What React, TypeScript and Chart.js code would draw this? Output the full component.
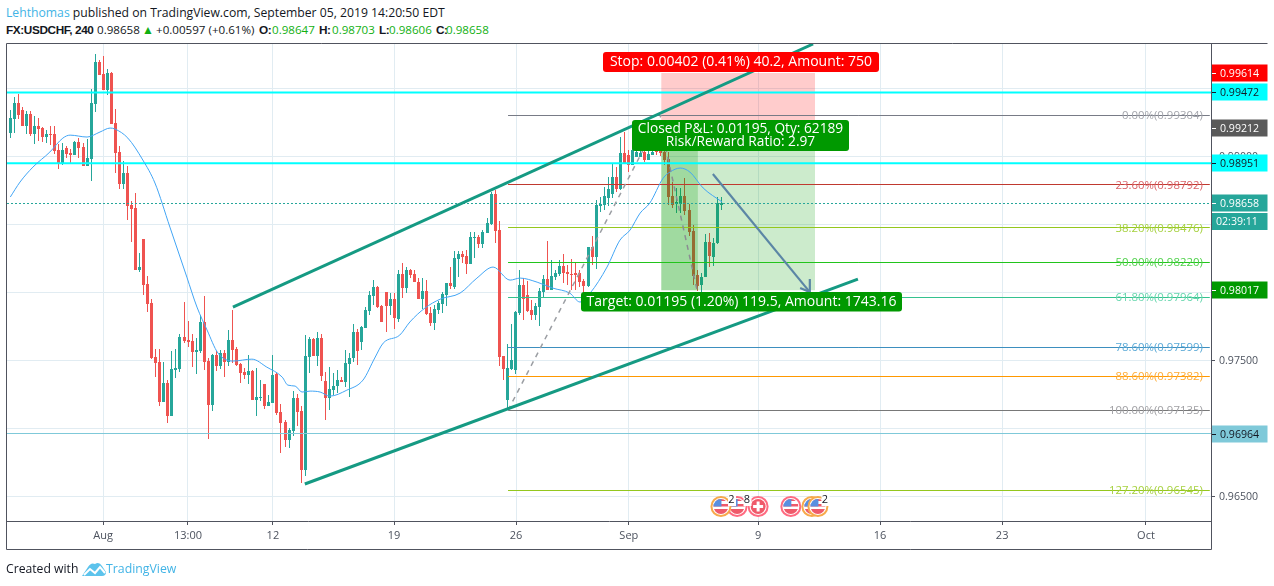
import React, { useEffect, useRef } from "react";
import { Chart, registerables } from "chart.js";

Chart.register(...registerables);

// ---- price data, in units of 0.00001 ----
const UNIT = 100000;
const opens = [
99173,99276,99394,99342,99225,99313,99166,99225,99210,99144,
99166,99166,99048,98946,99063,99026,99012,99107,99070,98931,
98982,99386,99695,99607,99489,99614,99247,99034,98799,98879,
98644,98622,98166,98393,98063,97923,97526,97489,97195,97335,
97092,97430,97438,97674,97651,97644,97563,97570,97784,97497,
97173,97541,97460,97556,97489,97651,97585,97475,97415,97393,
97423,97210,97225,97328,97166,97188,97401,97121,97048,96916,
96982,97225,97129,96695,97526,97659,97534,97666,97350,97225,
97283,97313,97357,97342,97475,97519,97710,97636,97740,97864,
97975,98040,97901,98004,97901,97952,97806,98136,98033,98166,
98136,98077,97952,98011,97850,97776,97872,97916,97982,98070,
98040,98246,98283,98269,98210,98401,98408,98357,98438,98504,
98724,98460,97534,97210,97438,97430,97850,98055,97982,97872,
97835,97894,98004,98099,98019,98114,98136,98195,98151,98136,
98144,98144,98085,98048,98335,98261,98637,98644,98696,98724,
98850,98762,99026,99012,98938,98996,98996,99034,98975,99012,
99048,99063,99034,98982,98710,98651,98651,98710,98607,98453,
98129,98055,98114,98371,98261,98364,98647];
const highs = [
99342,99438,99460,99365,99335,99335,99298,99283,99218,99195,
99225,99225,99093,99100,99078,99055,99115,99136,99100,99129,
99496,99754,99710,99739,99644,99621,99350,99078,98968,98931,
98674,98732,98291,98393,98121,97952,97585,97585,97489,97357,
97570,97585,97696,97931,97791,97696,97666,97835,97975,97519,
97548,97570,97578,97578,97725,97872,97600,97482,97445,97541,
97430,97445,97357,97328,97246,97541,97408,97181,97063,97004,
97276,97254,97166,97688,97674,97666,97710,97696,97415,97452,
97408,97430,97379,97578,97556,97769,97732,97754,97894,98011,
98092,98048,97909,98004,97996,97996,98166,98217,98188,98173,
98166,98107,98107,98092,97894,97909,97938,98004,98070,98188,
98306,98306,98306,98313,98445,98445,98423,98460,98548,98739,
98754,98526,97534,97622,97769,97864,98166,98107,98085,97945,
97923,98033,98129,98379,98239,98166,98239,98283,98202,98246,
98217,98166,98099,98335,98416,98681,98703,98776,98850,98953,
98923,99144,99181,99048,99210,99048,99048,99048,99048,99048,
99195,99240,99048,99034,98813,98769,98769,98842,98651,98497,
98166,98144,98430,98438,98401,98703,98703];
const lows = [
99136,99173,99276,99225,99166,99151,99093,99115,99107,99100,
99085,99019,98908,98938,98990,98953,99012,98990,98931,98931,
98821,99327,99600,99489,99452,99240,98879,98762,98762,98533,
98371,98166,98151,97982,97857,97511,97379,97166,97195,97041,
97092,97372,97415,97629,97600,97452,97401,97556,97430,96923,
97129,97423,97438,97379,97460,97482,97460,97335,97364,97328,
97210,97092,97203,97144,97166,97188,97099,96820,96864,96857,
96945,97019,96600,96651,97408,97534,97460,97350,97063,97136,
97246,97261,97342,97305,97232,97489,97467,97578,97740,97835,
97909,97886,97784,97710,97835,97732,97784,97960,97996,98107,
98077,97952,97879,97835,97754,97725,97843,97850,97901,98026,
98026,98114,98217,98136,98210,98254,98328,98328,98438,98496,
98364,97460,97357,97136,97430,97401,97835,97798,97857,97798,
97798,97754,97967,98019,98019,98092,98121,98070,98055,98019,
98019,98040,97996,98040,98202,98173,98592,98607,98637,98696,
98740,98754,98953,98887,98938,98996,98996,98960,98975,99012,
99012,99004,98938,98644,98622,98585,98585,98570,98416,98055,
98011,98004,98114,98188,98195,98357,98606];
const closes = [
99283,99394,99305,99225,99313,99166,99225,99203,99144,99166,
99158,99041,98946,99048,99019,99012,99107,99063,98931,98990,
99394,99695,99600,99489,99614,99240,99026,98799,98879,98637,
98615,98166,98188,98055,97916,97519,97482,97195,97335,97092,
97438,97445,97674,97644,97636,97563,97578,97784,97489,97173,
97541,97460,97556,97489,97651,97578,97467,97408,97393,97423,
97210,97232,97232,97166,97195,97393,97114,97041,96916,96989,
97225,97121,96695,97534,97659,97534,97666,97386,97225,97291,
97313,97357,97342,97482,97519,97710,97570,97747,97872,97982,
98040,97894,97784,97901,97952,97813,98136,98033,98166,98129,
98077,97952,98011,97843,97776,97879,97923,97989,98070,98048,
98254,98283,98261,98210,98408,98408,98357,98445,98511,98724,
98453,97526,97438,97445,97504,97857,98055,97952,97864,97835,
97901,98011,98099,98019,98121,98144,98195,98144,98136,98129,
98129,98077,98048,98335,98261,98644,98651,98710,98762,98850,
98762,99026,98953,98938,99048,99034,99026,98975,99019,99034,
99034,99026,98975,98703,98644,98666,98710,98600,98445,98121,
98048,98114,98371,98269,98364,98659,98658];

// moving average, read at these bar positions
const maBars = [0,2.4,5.6,9.8,13,14.8,19,22.2,24.7,25.9,29.1,32.8,35.8,39.5,43.7,46.2,48.7,51.4,55.1,59.8,63.5,67.3,68.7,70.5,72.2,74.2,76.7,79.1,83.3,87.3,90.2,92.3,96.4,98.9,102.6,106.4,111.3,115.5,119.5,123.7,126.2,130.4,134.3,138.5,141,143.5,147.7,150.9,153.4,155.9,158.3,161.6,163.3,165.8,168.2,171.5,176.2];
const maValues = [98703,98813,98923,99034,99136,99158,99144,99181,99210,99203,99136,98975,98806,98482,98114,97894,97725,97556,97497,97511,97452,97379,97320,97313,97269,97276,97269,97239,97283,97357,97519,97629,97688,97784,97886,97952,97996,98107,98188,98092,98107,98077,98033,97996,97931,97996,98188,98386,98460,98585,98659,98842,98887,98916,98887,98769,98666];

// axes
const timeTickBars = [22.95,43.98,65,94.98,125.2,153.1,185.1,215.3,245.5,281.1];
const timeTickLabels = ["Aug","13:00","12","19","26","Sep","9","16","23","Oct"];
const priceTicks = [0.965,0.97,0.975,0.98,0.985,0.99,0.995];
const hiddenPriceLabels = [0.97];
const BAR_MIN = -0.82, BAR_MAX = 297.2, PRICE_MIN = 0.96321, PRICE_MAX = 0.99828;

// fibonacci retracement
const fibLabels = ["0.00%","23.60%","38.20%","50.00%","61.80%","78.60%","88.60%","100.00%","127.20%"];
const fibPrices = [0.99304,0.98792,0.98476,0.9822,0.97964,0.97599,0.97382,0.97135,0.96545];
const fibLineColors = ["#787b86","#c0392f","#94c71d","#22c41c","#34c28f","#3d8fbf","#ff9800","#787878","#94c71d"];
const fibTextColors = ["#a3a5ac","#d9646a","#a6d13f","#4fd14a","#66d6ad","#5aa9d6","#ffab33","#a0a0a4","#a6d13f"];
const FIB_START = 123.2, FIB_END = 296.9;

// levels
const levelPrices = [0.99472,0.98951];
const currentPrice = 0.98658;
const lowLevel = 0.96964;

// position tool
const entry = 0.99212, stop = 0.99614, target = 0.98017;
const posStart = 161.1, posClose = 170.2, posEnd = 199.2;

// trend lines [bar, price]
const upperChannel = [[55.1,0.97894],[198.7,0.99828]];
const lowerChannel = [[72.9,0.96593],[209.8,0.9810]];
const fibTrend = [[123.2,0.97135],[161.1,0.99304]];
const closeTrend = [[161.1,0.99212],[170,0.98017]];
const arrowShaft = [[173.9,0.98872],[197.9,0.98004]];
const arrowHead = [[195.5,0.98034],[197.9,0.98004],[197.9,0.981]];

// tags on the price axis
const tagPrices = [0.99614,0.99472,0.99212,0.98951,0.98658,0.98017,0.96964];
const tagFills = ["#ff0000","#00ffff","#5a5a5a","#00ffff","#26a69a","#009900","#7fc9d9"];
const tagInks = ["#ffffff","#131722","#ffffff","#131722","#ffffff","#ffffff","#131722"];
const timerText = "02:39:11";

// events
const eventBars = [175.9,179.9,185.1,193.2,198.4,199.9];
const eventRings = ["#f7a94b","#ff6b81","#ff6b81","#ff6b81","#f7a94b","#f7a94b"];
const eventPlus = [false,false,true,false,false,false];
const eventOrder = [1,0,2,3,4,5];
const eventCounts = [["2",731.5],["8",747],["2",825]];

const FONT = "'Open Sans', sans-serif";
const GREEN = "#26a69a", RED = "#ef5350", BOX = "#50535e", TEXT = "#4c525e";

const pts = (a: number[][]) => a.map(([x, y]) => ({ x, y }));
const hline = (x0: number, x1: number, y: number) => [{ x: x0, y }, { x: x1, y }];

const snapPlugin = {
  id: "snap",
  afterDatasetsUpdate(chart: any) {
    chart.data.datasets.forEach((ds: any, i: number) => {
      const meta = chart.getDatasetMeta(i);
      if (ds.type === "bar") {
        meta.data.forEach((el: any) => {
          el.x = Math.floor(el.x) + 0.5;
          el.y = Math.round(el.y);
          el.base = Math.round(el.base);
          if (Math.abs(el.y - el.base) < 1) el.base = el.y + 1;
        });
      } else if (ds.crisp) {
        meta.data.forEach((el: any) => { el.y = Math.floor(el.y) + 0.5; });
      }
    });
  },
};

function roundBox(ctx: any, x: number, y: number, w: number, h: number, r: number, fill: string) {
  ctx.fillStyle = fill;
  ctx.beginPath();
  ctx.roundRect(x, y, w, h, r);
  ctx.fill();
}

const overlayPlugin = {
  id: "overlay",
  afterDatasetsDraw(chart: any) {
    const { ctx, scales } = chart;
    const X = (v: number) => scales.x.getPixelForValue(v);
    const Y = (v: number) => scales.y.getPixelForValue(v);
    ctx.save();
    // fib labels
    ctx.font = `11.4px ${FONT}`;
    ctx.textAlign = "right";
    ctx.textBaseline = "middle";
    fibPrices.forEach((p, i) => {
      ctx.fillStyle = fibTextColors[i];
      ctx.fillText(`${fibLabels[i]}(${p.toFixed(5)})`, X(FIB_END) - 7, Y(p) + 0.5);
    });
    // events
    const ey = 506.5;
    eventOrder.forEach((i) => {
      const cx = X(eventBars[i]);
      ctx.beginPath(); ctx.arc(cx, ey, 9.5, 0, Math.PI * 2);
      ctx.fillStyle = "#fff"; ctx.fill();
      ctx.lineWidth = 2; ctx.strokeStyle = eventRings[i]; ctx.stroke();
      ctx.save();
      ctx.beginPath(); ctx.arc(cx, ey, 7.5, 0, Math.PI * 2); ctx.clip();
      if (eventPlus[i]) {
        ctx.fillStyle = "#ef5a6a"; ctx.fillRect(cx - 8, ey - 8, 16, 16);
        ctx.fillStyle = "#fff";
        ctx.fillRect(cx - 5, ey - 1.5, 10, 3); ctx.fillRect(cx - 1.5, ey - 5, 3, 10);
      } else {
        ctx.fillStyle = "#fff"; ctx.fillRect(cx - 8, ey - 8, 16, 16);
        ctx.fillStyle = "#ef5a6a";
        ctx.fillRect(cx - 8, ey - 8, 16, 2.5); ctx.fillRect(cx - 8, ey - 2.5, 16, 2.5);
        ctx.fillRect(cx - 8, ey + 2.5, 16, 5.5);
        ctx.fillStyle = "#5a8fe0"; ctx.fillRect(cx - 8, ey - 8, 8.5, 8);
      }
      ctx.restore();
    });
    ctx.font = `11px ${FONT}`;
    ctx.textAlign = "center";
    eventCounts.forEach(([t, x]: any) => {
      ctx.fillStyle = "#fff"; ctx.fillRect(x - 3.5, 494, 8, 12);
      ctx.fillStyle = "#131722"; ctx.fillText(t, x, 500);
    });
    // position labels
    ctx.font = `14px ${FONT}`;
    roundBox(ctx, 603, 52, 276, 20, 3, "#ff0000");
    ctx.fillStyle = "#fff";
    ctx.fillText("Stop: 0.00402 (0.41%) 40.2, Amount: 750", 741, 62);
    roundBox(ctx, 632, 120, 217, 31, 3, "#009900");
    ctx.fillStyle = "#fff";
    ctx.font = `13.7px ${FONT}`;
    ctx.fillText("Closed P&L: 0.01195, Qty: 62189", 740.5, 129);
    ctx.fillText("Risk/Reward Ratio: 2.97", 740.5, 142.5);
    ctx.font = `14px ${FONT}`;
    roundBox(ctx, 581, 292, 321, 19.5, 3, "#009900");
    ctx.fillStyle = "#fff";
    ctx.fillText("Target: 0.01195 (1.20%) 119.5, Amount: 1743.16", 741.5, 302);
    // price tags
    ctx.font = `10.6px ${FONT}`;
    ctx.textAlign = "left";
    tagPrices.forEach((p, i) => {
      const cy = Math.round(Y(p));
      ctx.fillStyle = tagFills[i];
      ctx.fillRect(1212, cy - 8.5, 55.5, 17);
      ctx.fillStyle = tagInks[i];
      ctx.fillRect(1212, cy, 4, 1);
      ctx.fillText(p.toFixed(5), 1220, cy + 0.5);
    });
    ctx.fillStyle = GREEN;
    ctx.fillRect(1212, 213, 55.5, 17);
    ctx.fillStyle = "#fff";
    ctx.fillText(timerText, 1216, 221.5);
    // frame
    ctx.strokeStyle = BOX;
    ctx.lineWidth = 1;
    ctx.beginPath();
    ctx.moveTo(6.5, 549.5); ctx.lineTo(6.5, 43.5); ctx.lineTo(1267.5, 43.5);
    ctx.moveTo(6.5, 549.5); ctx.lineTo(1211.5, 549.5); ctx.lineTo(1211.5, 44);
    ctx.stroke();
    ctx.restore();
  },
};

const headerStyle = (left: number, top: number, extra: any = {}) => ({
  position: "absolute", left, top, whiteSpace: "nowrap", fontFamily: FONT, fontSize: 12.2, lineHeight: "16px", color: "#131722", ...extra,
});
const VAL = "#11b012";
const BOLD = { fontFamily: "'Liberation Sans'", fontWeight: 700, fontSize: 11.8, letterSpacing: "-0.4px" };
const NUM = { fontSize: 11.6 };
const line2: [string, number, any][] = [
  ["FX:USDCHF, 240", 6, BOLD],
  ["0.98658", 97, NUM],
  ["▲", 142, { color: "#11b012", fontSize: 12 }],
  ["+0.00597 (+0.61%)", 156, NUM],
  ["O:", 259, BOLD],
  ["0.98647", 272, { ...NUM, color: VAL }],
  ["H:", 319, BOLD],
  ["0.98703", 332, { ...NUM, color: VAL }],
  ["L:", 379, BOLD],
  ["0.98606", 389, { ...NUM, color: VAL }],
  ["C:", 436, BOLD],
  ["0.98658", 446, { ...NUM, color: VAL }],
];

export default function App() {
  const ref = useRef<HTMLCanvasElement | null>(null);
  useEffect(() => {
    const bars = opens.map((_, i) => i);
    const colors = opens.map((o, i) => (closes[i] >= o ? GREEN : RED));
    const thin = { type: "line", pointRadius: 0, borderWidth: 1, fill: false };
    const cfg: any = {
      data: {
        datasets: [
          { type: "bar", order: 21, grouped: false, barThickness: 1, inflateAmount: 0, borderWidth: 0, backgroundColor: colors,
            data: bars.map((i) => ({ x: i, y: [lows[i] / UNIT, highs[i] / UNIT] })) },
          { type: "bar", order: 20, grouped: false, barThickness: 3, inflateAmount: 0, borderWidth: 0, backgroundColor: colors,
            data: bars.map((i) => ({ x: i, y: [opens[i] / UNIT, closes[i] / UNIT] })) },
          { ...thin, order: 15, borderWidth: 0, crisp: false, data: hline(posStart, posEnd, entry), fill: { target: { value: stop }, above: "rgba(255,0,0,0.2)", below: "rgba(255,0,0,0.2)" } },
          { ...thin, order: 15, borderWidth: 0, data: hline(posStart, posEnd, entry), fill: { target: { value: target }, above: "rgba(0,153,0,0.2)", below: "rgba(0,153,0,0.2)" } },
          { ...thin, order: 14, borderWidth: 0, data: hline(posStart, posClose, entry), fill: { target: { value: target }, above: "rgba(0,153,0,0.22)", below: "rgba(0,153,0,0.22)" } },
          ...fibPrices.map((p, i) => ({ ...thin, order: 12, crisp: true, borderColor: fibLineColors[i], data: hline(FIB_START, FIB_END, p) })),
          ...levelPrices.map((p) => ({ ...thin, order: 11, borderColor: "#00ffff", borderWidth: 2, data: hline(BAR_MIN, BAR_MAX, p) })),
          { ...thin, order: 11, crisp: true, borderColor: "#7fc9d9", data: hline(BAR_MIN, BAR_MAX, lowLevel) },
          { ...thin, order: 11, crisp: true, borderColor: GREEN, borderDash: [2, 2], data: hline(BAR_MIN, BAR_MAX, currentPrice) },
          { ...thin, order: 10, borderColor: "#42a5f5", borderWidth: 1, cubicInterpolationMode: "monotone", data: maBars.map((x, i) => ({ x, y: maValues[i] / UNIT })) },
          { ...thin, order: 9, borderColor: "#9b9ea3", borderWidth: 1.5, borderDash: [5, 5], data: pts(fibTrend) },
          { ...thin, order: 9, borderColor: "#8a8d92", borderWidth: 1.5, borderDash: [5, 5], data: pts(closeTrend) },
          { ...thin, order: 8, borderColor: "#159a83", borderWidth: 3, data: pts(upperChannel) },
          { ...thin, order: 8, borderColor: "#159a83", borderWidth: 3, data: pts(lowerChannel) },
          { ...thin, order: 7, borderColor: "#5b86a5", borderWidth: 2.2, data: pts(arrowShaft) },
          { ...thin, order: 7, borderColor: "#5b86a5", borderWidth: 2.2, data: pts(arrowHead) },
        ],
      },
      options: {
        animation: false,
        responsive: false,
        events: [],
        layout: { padding: { left: 7, top: 44, right: 6, bottom: 37 } },
        plugins: { legend: { display: false }, tooltip: { enabled: false }, title: { display: false } },
        scales: {
          x: {
            type: "linear", offset: false, min: BAR_MIN, max: BAR_MAX,
            afterBuildTicks: (s: any) => { s.ticks = timeTickBars.map((value) => ({ value })); },
            afterFit: (s: any) => { s.height = 28; },
            grid: { offset: false, color: "#e1ecf2", tickColor: BOX, tickLength: 4, lineWidth: 1 },
            border: { color: BOX },
            ticks: {
              autoSkip: false, maxRotation: 0, padding: 4, color: TEXT, font: { family: FONT, size: 11 },
              callback: (v: number) => timeTickLabels[timeTickBars.indexOf(v)] ?? "",
            },
          },
          y: {
            type: "linear", position: "right", min: PRICE_MIN, max: PRICE_MAX,
            afterBuildTicks: (s: any) => { s.ticks = priceTicks.map((value) => ({ value })); },
            afterFit: (s: any) => { s.width = 57; },
            grid: { color: "#e1ecf2", tickColor: BOX, tickLength: 4, lineWidth: 1 },
            border: { color: BOX },
            ticks: {
              padding: 4, color: TEXT, font: { family: FONT, size: 10.6 },
              callback: (v: number) => (hiddenPriceLabels.includes(v) ? "" : v.toFixed(5)),
            },
          },
        },
      },
      plugins: [snapPlugin, overlayPlugin],
    };
    const chart = new Chart(ref.current as any, cfg);
    return () => chart.destroy();
  }, []);

  return (
    <div style={{ position: "fixed", left: 0, top: 0, width: 1274, height: 586, background: "#fff", overflow: "hidden" }}>
      <div style={headerStyle(6, 5) as any}>
        <span style={{ color: "#42b4e6" }}>Lehthomas</span> published on TradingView.com, September 05, 2019 14:20:50 EDT
      </div>
      {line2.map(([t, l, e], i) => (
        <div key={i} style={headerStyle(l, 22, e) as any}>{t}</div>
      ))}
      <canvas ref={ref} width={1274} height={586} style={{ position: "absolute", left: 0, top: 0, width: 1274, height: 586, pointerEvents: "none" }} />
      <div style={headerStyle(6, 561, { fontSize: 12.2 }) as any}>Created with</div>
      <svg style={{ position: "absolute", left: 82, top: 561 }} width="24" height="16" viewBox="0 0 24 16">
        <path d="M0 15 L6 6 Q9 1 13 3 Q17 0 20 5 L24 11 Q24 15 20 15 Z" fill="#5cc3ec" />
        <path d="M2 14 L8 8 L13 12 L18 6 L23 12" fill="none" stroke="#fff" strokeWidth="2" />
      </svg>
      <div style={headerStyle(106, 561, { fontSize: 12.3, color: "#42b4e6" }) as any}>TradingView</div>
    </div>
  );
}
